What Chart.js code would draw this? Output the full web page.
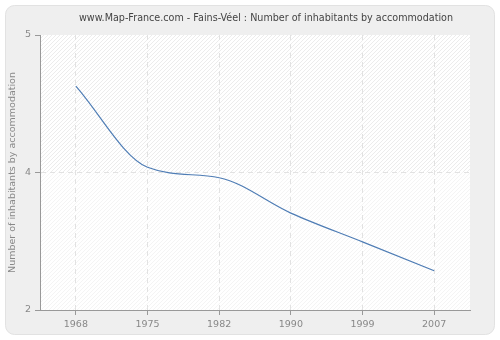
<!DOCTYPE html>
<html>
<head>
<meta charset="utf-8">
<script src="https://cdn.jsdelivr.net/npm/chart.js@4.4.1/dist/chart.umd.min.js"></script>
<style>
  html, body { margin: 0; padding: 0; background: #fff; }
  #wrap { width: 500px; height: 340px; }
</style>
</head>
<body>
<div id="wrap"><canvas id="c"></canvas></div>
<script>
const years = ['1968', '1975', '1982', '1990', '1999', '2007'];
const inhabitants = [4.16, 3.54, 3.46, 3.19, 2.97, 2.75];
// axis bounds; labels are shown rounded like the source (2, 4, 5)
const yMin = 2.45;
const yMax = 4.55;
const yTicks = [2.45, 3.5, 4.55];

const chartTitle = 'www.Map-France.com - Fains-Véel : Number of inhabitants by accommodation';
const FONT = 'DejaVu Sans';

// background panel, hatched plot area and the title
const backdrop = {
    id: 'backdrop',
    beforeDraw(chart) {
        const { ctx, chartArea: a } = chart;
        ctx.save();
        ctx.fillStyle = '#fff';
        ctx.fillRect(0, 0, chart.width, chart.height);
        ctx.beginPath();
        ctx.roundRect(5.5, 5.5, 489, 329, 9);
        ctx.fillStyle = '#efefef';
        ctx.fill();
        ctx.strokeStyle = '#e2e2e2';
        ctx.lineWidth = 1;
        ctx.stroke();

        ctx.fillStyle = '#fff';
        ctx.fillRect(a.left, a.top, a.right - a.left, a.bottom - a.top);
        const midY = chart.scales.y.getPixelForValue(yTicks[1]);
        const drawHatch = (top, bottom, color) => {
            ctx.save();
            ctx.beginPath();
            ctx.rect(a.left, top, a.right - a.left, bottom - top);
            ctx.clip();
            ctx.strokeStyle = color;
            ctx.lineWidth = 1;
            ctx.beginPath();
            const h = a.bottom - a.top;
            for (let x = a.left - h; x < a.right + h; x += 4) {
                ctx.moveTo(x, a.bottom);
                ctx.lineTo(x + h, a.top);
            }
            ctx.stroke();
            ctx.restore();
        };
        drawHatch(a.top, midY, '#ececec');
        drawHatch(midY, a.bottom, '#f4f4f4');

        ctx.fillStyle = '#444';
        ctx.font = '9.6px "' + FONT + '"';
        ctx.textAlign = 'center';
        ctx.textBaseline = 'middle';
        ctx.fillText(chartTitle, 266, 18);
        ctx.restore();
    }
};

const ctx = document.getElementById('c');

new Chart(ctx, {
    type: 'line',
    data: {
        labels: years,
        datasets: [{
            data: inhabitants,
            borderColor: '#4f7db5',
            borderWidth: 1.2,
            pointRadius: 0,
            fill: false,
            cubicInterpolationMode: 'monotone'
        }]
    },
    options: {
        responsive: true,
        maintainAspectRatio: false,
        animation: false,
        layout: { padding: { top: 35, right: 30, left: 0, bottom: 0 } },
        plugins: {
            legend: { display: false },
            title: { display: false },
            tooltip: { enabled: false }
        },
        scales: {
            x: {
                offset: true,
                afterFit: s => { s.height = 30; },
                grid: {
                    offset: false,
                    color: '#e2e2e2',
                    tickColor: '#999',
                    tickLength: 5
                },
                border: { color: '#999', width: 1, dash: [5, 4] },
                ticks: {
                    color: '#888',
                    padding: 4,
                    font: { family: FONT, size: 9.5 }
                }
            },
            y: {
                min: yMin,
                max: yMax,
                afterFit: s => { s.width = 40; },
                afterBuildTicks: s => { s.ticks = yTicks.map(v => ({ value: v })); },
                grid: {
                    color: c => (c.tick && c.tick.value === yTicks[1]) ? '#e2e2e2' : 'rgba(0,0,0,0)',
                    tickColor: '#999',
                    tickLength: 5
                },
                border: { color: '#999', width: 1, dash: [5, 4] },
                ticks: {
                    color: '#888',
                    padding: 4,
                    font: { family: FONT, size: 9.5 },
                    callback: v => Math.round(v)
                },
                title: {
                    display: true,
                    text: 'Number of inhabitants by accommodation',
                    color: '#888',
                    padding: { top: 7, bottom: 0 },
                    font: { family: FONT, size: 9.5 }
                }
            }
        }
    },
    plugins: [backdrop]
});
</script>
</body>
</html>
